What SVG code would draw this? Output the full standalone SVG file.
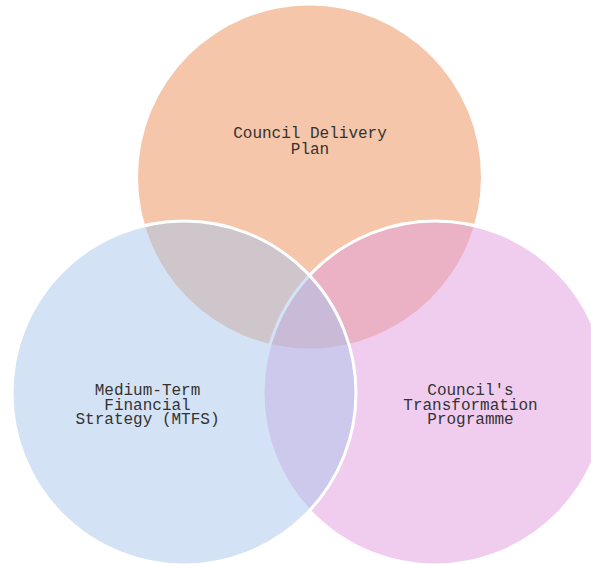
<svg xmlns="http://www.w3.org/2000/svg" width="591" height="564" viewBox="0 0 591 564">
  <style>
    .lbl { font-family: "Liberation Mono", "Courier New", monospace; font-size: 16px; fill: #333333; text-anchor: middle; }
    .set { stroke: #ffffff; stroke-width: 3; }
  </style>
  <rect width="591" height="564" fill="#ffffff"/>
  <g id="council-delivery-plan">
    <circle cx="309.5" cy="177" r="171.5" fill="#EB8D55" fill-opacity="0.5"/>
  </g>
  <g id="transformation-programme">
    <circle class="set" cx="435" cy="393" r="172" fill="#E19BDD" fill-opacity="0.5"/>
  </g>
  <g id="mtfs">
    <circle class="set" cx="184" cy="393" r="172" fill="#A7C5E9" fill-opacity="0.5"/>
  </g>
  <g id="labels">
    <text class="lbl" x="310" y="138">Council Delivery</text>
    <text class="lbl" x="310" y="153.5">Plan</text>
    <text class="lbl" x="147.5" y="395">Medium-Term</text>
    <text class="lbl" x="147.5" y="409.5">Financial</text>
    <text class="lbl" x="147.5" y="424">Strategy (MTFS)</text>
    <text class="lbl" x="470.5" y="395">Council's</text>
    <text class="lbl" x="470.5" y="409.5">Transformation</text>
    <text class="lbl" x="470.5" y="424">Programme</text>
  </g>
</svg>
